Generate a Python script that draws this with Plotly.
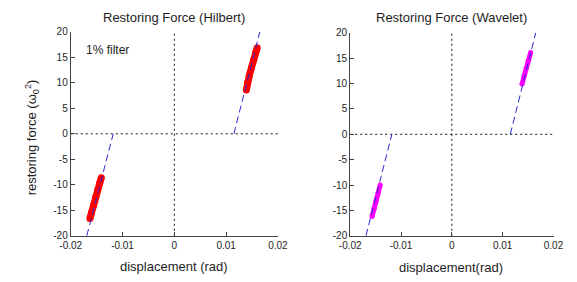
import plotly.graph_objects as go

# ---- data ----
x_ticks = [-0.02, -0.01, 0, 0.01, 0.02]
x_tick_labels = ["-0.02", "-0.01", "0", "0.01", "0.02"]
y_ticks = [-20, -15, -10, -5, 0, 5, 10, 15, 20]
y_tick_labels = ["-20", "-15", "-10", "-5", "0", "5", "10", "15", "20"]

# dashed linear fits (same in both panels)
fit_pos_x = [0.0115, 0.0165]
fit_pos_y = [0, 20]
fit_neg_x = [-0.0169, -0.0118]
fit_neg_y = [-20, 0]

# Hilbert estimates (red)
hil_pos_x = [0.0139, 0.0141, 0.0145, 0.0149, 0.0153, 0.0157, 0.0160]
hil_pos_y = [8.6, 10.0, 11.5, 13.0, 14.5, 16.0, 16.9]
hil_neg_x = [-0.0163, -0.0160, -0.0156, -0.0152, -0.0148, -0.0144, -0.0141]
hil_neg_y = [-16.6, -15.5, -14.0, -12.5, -11.0, -9.6, -8.6]

# Wavelet estimates (magenta)
wav_pos_x = [0.0138, 0.0142, 0.0146, 0.0150, 0.0155]
wav_pos_y = [9.9, 11.5, 13.0, 14.5, 16.1]
wav_neg_x = [-0.0157, -0.0153, -0.0149, -0.0145, -0.0141]
wav_neg_y = [-16.2, -14.7, -13.1, -11.6, -10.0]

FONT = "Liberation Sans, Arial, sans-serif"
TXT = "#1e1e1e"
BLUE = "#2a2ad0"

fig = go.Figure()

def add_panel(xa, ya, px, py, nx, ny, color, width):
    # zero reference lines
    fig.add_trace(go.Scatter(x=[-0.02, 0.02], y=[0, 0], mode="lines",
                             line=dict(color="#111", width=1, dash="2px,3px"),
                             xaxis=xa, yaxis=ya, hoverinfo="skip"))
    fig.add_trace(go.Scatter(x=[0, 0], y=[-20, 20], mode="lines",
                             line=dict(color="#111", width=1, dash="2px,3px"),
                             xaxis=xa, yaxis=ya, hoverinfo="skip"))
    # data bands
    for xs, ys in ((px, py), (nx, ny)):
        fig.add_trace(go.Scatter(x=xs, y=ys, mode="lines+markers",
                                 line=dict(color=color, width=width),
                                 marker=dict(color=color, size=width),
                                 xaxis=xa, yaxis=ya))
    # dashed fit lines
    for xs, ys in ((fit_pos_x, fit_pos_y), (fit_neg_x, fit_neg_y)):
        fig.add_trace(go.Scatter(x=xs, y=ys, mode="lines",
                                 line=dict(color=BLUE, width=1, dash="7px,4px"),
                                 xaxis=xa, yaxis=ya))

add_panel("x", "y", hil_pos_x, hil_pos_y, hil_neg_x, hil_neg_y, "#ff0000", 7)
add_panel("x2", "y2", wav_pos_x, wav_pos_y, wav_neg_x, wav_neg_y, "#ff00ff", 5)

xax = dict(range=[-0.02, 0.02], tickvals=x_ticks, ticktext=x_tick_labels,
           showline=True, linecolor="#444", linewidth=1, ticks="inside",
           ticklen=4, tickcolor="#444", showgrid=False, zeroline=False,
           tickfont=dict(family=FONT, size=10, color=TXT), mirror=False)
yax = dict(range=[-20, 20], tickvals=y_ticks, ticktext=y_tick_labels,
           showline=True, linecolor="#444", linewidth=1, ticks="inside",
           ticklen=4, tickcolor="#444", showgrid=False, zeroline=False,
           tickfont=dict(family=FONT, size=10, color=TXT), mirror=False)

fig.update_layout(
    width=577, height=282,
    margin=dict(l=0, r=0, t=0, b=0),
    paper_bgcolor="white", plot_bgcolor="white",
    showlegend=False,
    xaxis=dict(xax, domain=[62/577, 277/577], anchor="y"),
    yaxis=dict(yax, domain=[42/282, 255/282], anchor="x"),
    xaxis2=dict(xax, domain=[352/577, 563/577], anchor="y2"),
    yaxis2=dict(yax, domain=[42/282, 254/282], anchor="x2"),
    font=dict(family=FONT, color=TXT),
)

ann = [
    dict(text="Restoring Force (Hilbert)", x=169/577, y=(282-12)/282),
    dict(text="Restoring Force (Wavelet)", x=457/577, y=(282-12)/282),
    dict(text="displacement (rad)", x=169/577, y=(282-272)/282),
    dict(text="displacement(rad)", x=457/577, y=(282-273)/282),
    dict(text="1% filter", x=100/577, y=(282-46)/282, size=12),
    dict(text="restoring force (ω<sub>0</sub><sup>2</sup>)", x=22/577,
         y=(282-137)/282, textangle=-90),
]
for a in ann:
    size = a.pop("size", 13)
    fig.add_annotation(xref="paper", yref="paper", showarrow=False,
                       xanchor="center", yanchor="middle",
                       font=dict(family=FONT, size=size, color=TXT), **a)

fig.write_html("out.html",
               config={"displayModeBar": False},
               post_script="document.body.style.margin='0';"
                           "document.body.style.overflow='hidden';")
